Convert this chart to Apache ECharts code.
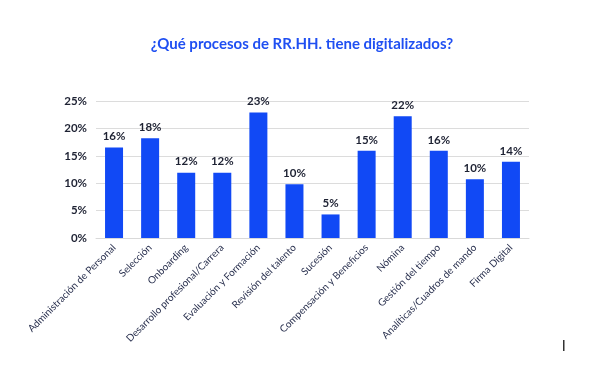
<!DOCTYPE html>
<html>
<head>
<meta charset="utf-8">
<script src="https://cdn.jsdelivr.net/npm/echarts@6/dist/echarts.min.js"></script>
<style>html,body{margin:0;padding:0;background:#fff}#c{width:600px;height:369px}</style>
</head>
<body>
<div id="c"></div>
<script>
const categories = ["Administración de Personal","Selección","Onboarding","Desarrollo profesional/Carrera","Evaluación y Formación","Revisión del talento","Sucesión","Compensación y Beneficios","Nómina","Gestión del tiempo","Analíticas/Cuadros de mando","Firma Digital"];
const values = [16.5, 18.2, 11.9, 11.9, 22.9, 9.8, 4.3, 15.9, 22.2, 15.9, 10.7, 13.9];
const valueLabels = ["16%","18%","12%","12%","23%","10%","5%","15%","22%","16%","10%","14%"];
const yTicks = [0, 5, 10, 15, 20, 25];

const chart = echarts.init(document.getElementById('c'), null, {renderer:'canvas'});
chart.setOption({
  animation:false,
  title:{text:'¿Qué procesos de RR.HH. tiene digitalizados?', left:297, textAlign:'center', top:32,
    textStyle:{color:'#1f4ff2', fontFamily:'Lato', fontWeight:'bold', fontSize:15}},
  grid:{left:96, right:71, top:101, bottom:131},
  xAxis:{type:'category', data:categories,
    axisLine:{lineStyle:{color:'#d9d9d9'}}, axisTick:{show:false},
    axisLabel:{rotate:45, interval:0, margin:8, color:'#2b3250', fontFamily:'Lato', fontSize:10}},
  yAxis:{type:'value', min:yTicks[0], max:yTicks[yTicks.length-1], interval:5,
    axisLine:{show:false}, axisTick:{show:false},
    splitLine:{lineStyle:{color:'#dcdcdc'}},
    axisLabel:{formatter:'{value}%', color:'#1e2233', fontFamily:'Lato', fontWeight:'bold', fontSize:11.5, margin:9}},
  series:[{type:'bar', data:values, barWidth:18,
    itemStyle:{color:'#1149f5'},
    label:{show:true, position:'top', distance:5, color:'#1e2233', fontFamily:'Lato', fontWeight:'bold', fontSize:11.5,
      formatter:p=>valueLabels[p.dataIndex]}}],
  graphic:[{type:'rect', shape:{x:563, y:340, width:1.5, height:11}, style:{fill:'#333'}}]
});
</script>
</body>
</html>
